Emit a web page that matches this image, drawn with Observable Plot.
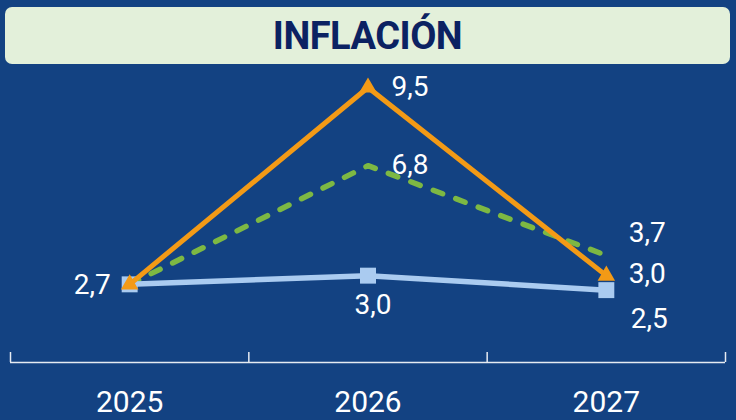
<!DOCTYPE html>
<html>
<head>
<meta charset="utf-8">
<script src="https://cdn.jsdelivr.net/npm/d3@7"></script>
<script src="https://cdn.jsdelivr.net/npm/@observablehq/plot@0.6"></script>
<style>
  html, body { margin: 0; padding: 0; background: #134282; }
  #wrap { width: 736px; height: 420px; overflow: hidden; background: #134282; padding-top: 7px; box-sizing: border-box; }
  #title { margin: 0 6px 0 5px; height: 57px; background: #e3f0da; border-radius: 7px;
           display: flex; align-items: center; justify-content: center;
           font-family: Roboto, sans-serif; font-weight: 700; font-size: 38px; color: #0b2262; letter-spacing: -0.5px; }
  #chart svg { display: block; }
</style>
</head>
<body>
<div id="wrap">
  <div id="title">INFLACIÓN</div>
  <div id="chart"></div>
</div>
<script>
const years = [2025, 2026, 2027];
const orangeValues = [2.7, 9.5, 3.0];
const greenValues = [2.7, 6.8, 3.7];
const blueValues = [2.7, 3.0, 2.5];

const fmt = v => d3.format(".1f")(v).replace(".", ",");
const toRows = vals => years.map((year, i) => ({year, value: vals[i]}));
const orange = toRows(orangeValues);
const green = toRows(greenValues);
const blue = toRows(blueValues);
const edges = years.map(y => y - 0.5).concat([years[years.length - 1] + 0.5]);

const C_ORANGE = "#f39a16";
const C_GREEN = "#7db843";
const C_BLUE = "#aacbf0";

function label(rows, i, opts) {
  return Plot.text([rows[i]], {x: "year", y: "value", text: d => fmt(d.value),
    fill: "white", fontSize: 28, fontFamily: "Roboto", ...opts});
}

const chart = Plot.plot({
  width: 736,
  height: 356,
  marginTop: 23,
  marginBottom: 58,
  marginLeft: 10,
  marginRight: 11,
  x: {type: "linear", domain: [edges[0], edges[edges.length - 1]], label: null},
  y: {domain: [0, 9.5], axis: null},
  style: {background: "transparent", color: "white", fontFamily: "Roboto", overflow: "visible"},
  marks: [
    Plot.ruleY([0], {stroke: "#e6ebf2", strokeWidth: 1.5}),
    Plot.axisX(edges, {tickSize: -10, tickFormat: () => "", stroke: "#e6ebf2", strokeWidth: 1.5, label: null}),
    Plot.axisX(years, {tickSize: 0, tickPadding: 28, tickFormat: d => String(d), fontSize: 30, fill: "white", label: null}),
    Plot.line(green, {x: "year", y: "value", stroke: C_GREEN, strokeWidth: 5.5, strokeDasharray: "10,14", strokeLinecap: "round"}),
    Plot.line(blue, {x: "year", y: "value", stroke: C_BLUE, strokeWidth: 5.5}),
    Plot.dot(blue, {x: "year", y: "value", symbol: "square", r: 9, fill: C_BLUE}),
    Plot.line(orange, {x: "year", y: "value", stroke: C_ORANGE, strokeWidth: 5}),
    Plot.dot(orange, {x: "year", y: "value", symbol: "triangle", r: 6.5, fill: C_ORANGE}),
    label(orange, 1, {dx: 42, dy: 0}),
    label(green, 1, {dx: 42, dy: -1}),
    label(blue, 0, {dx: -19, textAnchor: "end", dy: 1}),
    label(blue, 1, {dx: 5, dy: 29}),
    label(green, 2, {dx: 41, dy: -22}),
    label(orange, 2, {dx: 41, dy: -2}),
    label(blue, 2, {dx: 43, dy: 29})
  ]
});
document.getElementById("chart").appendChild(chart);
</script>
</body>
</html>
